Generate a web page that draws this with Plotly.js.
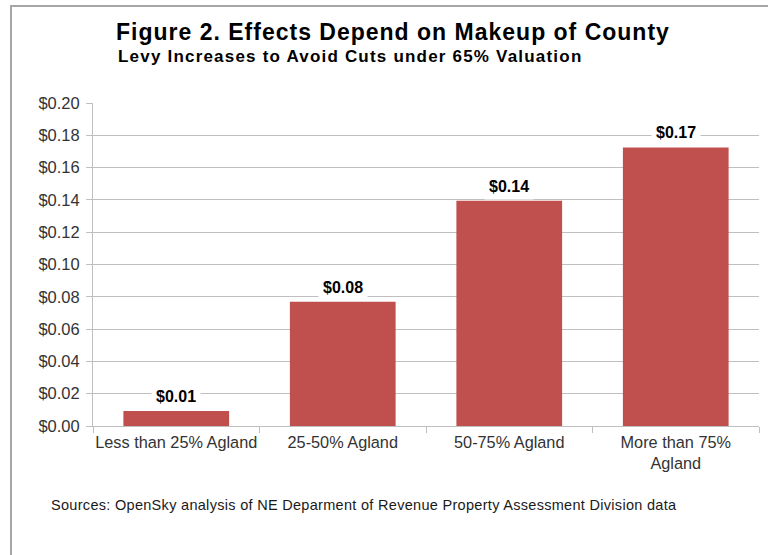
<!DOCTYPE html>
<html>
<head>
<meta charset="utf-8">
<script src="https://cdn.plot.ly/plotly-3.0.1.min.js"></script>
<style>
  html, body { margin: 0; padding: 0; background: #fff; }
  #wrap { position: relative; width: 768px; height: 555px; overflow: hidden; }
  #chart { position: absolute; left: 0; top: 0; width: 768px; height: 555px; }
  #frame { position: absolute; left: 10px; top: 5px; width: 800px; height: 600px;
           border-left: 2px solid #a6a6a6; border-top: 2px solid #a6a6a6; pointer-events: none; }
</style>
</head>
<body>
<div id="wrap">
  <div id="chart"></div>
  <div id="frame"></div>
</div>
<script>
// Levy increase per category of agricultural land share
const categories = ['Less than 25% Agland', '25-50% Agland', '50-75% Agland', 'More than 75%<br>Agland'];
const levyIncrease = [0.0093, 0.0770, 0.1395, 0.1725];
const yTickValues = [0, 0.02, 0.04, 0.06, 0.08, 0.10, 0.12, 0.14, 0.16, 0.18, 0.20];
const yTickLabels = yTickValues.map(v => '$' + v.toFixed(2));

const titleText = 'Figure 2. Effects Depend on Makeup of County';
const subtitleText = 'Levy Increases to Avoid Cuts under 65% Valuation';
const sourceText = 'Sources: OpenSky analysis of NE Deparment of Revenue Property Assessment Division data';

const FONT = 'Arial, "Liberation Sans", sans-serif';

const trace = {
  type: 'bar',
  x: categories,
  y: levyIncrease,
  marker: { color: '#c0504d', line: { width: 0 } },
  hoverinfo: 'skip'
};

// Value labels sit above each bar on a white box that breaks the gridline
const valueLabels = categories.map((c, i) => ({
  x: c,
  y: levyIncrease[i],
  xref: 'x',
  yref: 'y',
  text: '<b>$' + levyIncrease[i].toFixed(2) + '</b>',
  showarrow: false,
  yanchor: 'bottom',
  yshift: 1,
  bgcolor: '#ffffff',
  borderpad: 4,
  font: { family: FONT, size: 16, color: '#000' }
}));

const layout = {
  width: 768,
  height: 555,
  margin: { l: 93, r: 9, t: 103, b: 129 },
  paper_bgcolor: '#ffffff',
  plot_bgcolor: '#ffffff',
  showlegend: false,
  bargap: 0.365,
  font: { family: FONT, size: 16, color: '#333' },
  title: {
    text: '<b><span style="letter-spacing:1px">' + titleText + '</span></b>',
    font: { family: FONT, size: 23, color: '#000' },
    xref: 'container', yref: 'container',
    x: 116 / 768, xanchor: 'left',
    y: 1 - 32 / 555, yanchor: 'middle'
  },
  xaxis: {
    type: 'category',
    showgrid: false,
    showline: true,
    linecolor: '#bfbfbf',
    linewidth: 1,
    ticks: 'outside',
    tickson: 'boundaries',
    ticklen: 6,
    tickcolor: '#bfbfbf',
    tickangle: 0,
    ticklabelstandoff: 1,
    tickfont: { family: FONT, size: 16.3, color: '#333' },
    fixedrange: true
  },
  yaxis: {
    range: [0, 0.2],
    tickvals: yTickValues,
    ticktext: yTickLabels,
    showgrid: true,
    gridcolor: '#bfbfbf',
    gridwidth: 1,
    zeroline: false,
    showline: true,
    linecolor: '#bfbfbf',
    linewidth: 1,
    ticks: 'outside',
    ticklen: 6,
    tickcolor: '#bfbfbf',
    ticklabelstandoff: 3,
    tickfont: { family: FONT, size: 16.5, color: '#333' },
    fixedrange: true
  },
  annotations: valueLabels.concat([
    {
      text: '<b><span style="letter-spacing:1.2px">' + subtitleText + '</span></b>',
      xref: 'paper', yref: 'paper',
      x: (116 - 93) / 666, xanchor: 'left',
      y: (426 - 57) / 322.4, yanchor: 'middle',
      showarrow: false,
      font: { family: FONT, size: 17, color: '#000' }
    },
    {
      text: '<span style="letter-spacing:0.3px">' + sourceText + '</span>',
      xref: 'paper', yref: 'paper',
      x: (49 - 93) / 666, xanchor: 'left',
      y: (426 - 505) / 322.4, yanchor: 'middle',
      showarrow: false,
      font: { family: FONT, size: 14.5, color: '#1a1a1a' }
    }
  ])
};

Plotly.newPlot('chart', [trace], layout, { displayModeBar: false, staticPlot: true });
</script>
</body>
</html>
